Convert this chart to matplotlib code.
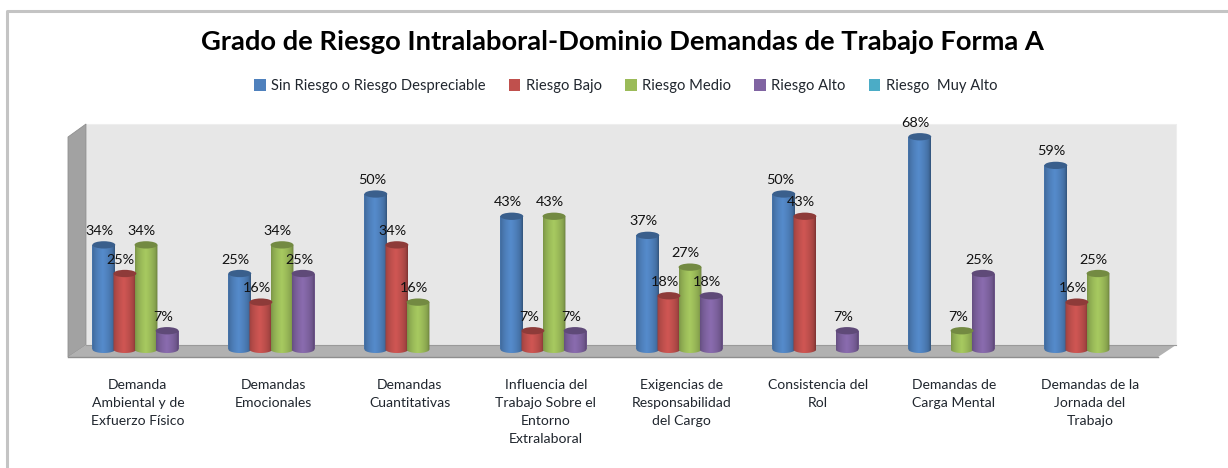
import numpy as np
import matplotlib
matplotlib.use("Agg")
import matplotlib.pyplot as plt
from matplotlib.colors import to_rgb
from matplotlib.lines import Line2D
from matplotlib.patches import Ellipse, Patch, PathPatch, Polygon
from matplotlib.path import Path

plt.rcParams['font.family'] = ['Lato', 'DejaVu Sans']

# Data (percent, 0 = no bar and no label)
categories = [
    "Demanda\nAmbiental y de\nExfuerzo Físico",
    "Demandas\nEmocionales",
    "Demandas\nCuantitativas",
    "Influencia del\nTrabajo Sobre el\nEntorno\nExtralaboral",
    "Exigencias de\nResponsabilidad\ndel Cargo",
    "Consistencia del\nRol",
    "Demandas de\nCarga Mental",
    "Demandas de la\nJornada del\nTrabajo",
]
series_names = ["Sin Riesgo o Riesgo Despreciable", "Riesgo Bajo", "Riesgo Medio",
                "Riesgo Alto", "Riesgo  Muy Alto"]
sin_riesgo = [34, 25, 50, 43, 37, 50, 68, 59]
riesgo_bajo = [25, 16, 34, 7, 18, 43, 0, 16]
riesgo_medio = [34, 34, 16, 43, 27, 0, 7, 25]
riesgo_alto = [7, 25, 0, 7, 18, 7, 25, 0]
riesgo_muy_alto = [0, 0, 0, 0, 0, 0, 0, 0]
colors = ["#4F81BD", "#C0504D", "#9BBB59", "#8064A2", "#4BACC6"]

W, H = 1228, 468
BAR_STEP = 0.155
BAR_W = 0.168
RIM = 1.15  # half height of the cylinder ellipse, in percent

fig = plt.figure(figsize=(W / 100, H / 100), dpi=100, facecolor="white")

# Background layer in pixel coords: page frame and the fake 3D walls
bg = fig.add_axes([0, 0, 1, 1])
bg.set_xlim(0, W)
bg.set_ylim(H, 0)
bg.axis("off")
bg.add_line(Line2D([7, 7, W], [H, 11, 11], color="#c4c4c4", lw=2.2))
bg.add_patch(Polygon([(86, 124), (1176, 124), (1176, 345), (86, 345)], fc="#e7e7e7", ec="#eeeeee", lw=0.8))
bg.add_patch(Polygon([(68, 137), (86, 124), (86, 345), (68, 357)], fc="#a2a2a2", ec="#8f8f8f", lw=0.6))
bg.add_patch(Polygon([(86, 345), (1176, 345), (1158, 357), (68, 357)], fc="#b1b1b1", ec="none"))
bg.add_line(Line2D([68, 1158], [357, 357], color="#8e8e8e", lw=1.0))
bg.add_line(Line2D([86, 1176], [345, 345], color="#9a9a9a", lw=0.8))

# Data layer: 136 px per category, 3.18 px per percent, zero at y=353
ax = fig.add_axes([78 / W, (H - 353) / H, 8 * 136 / W, 72 * 3.18 / H])
ax.patch.set_alpha(0)
ax.set_xlim(-0.5, 7.5)
ax.set_ylim(0, 72)
for s in ax.spines.values():
    s.set_visible(False)
ax.set_yticks([])
ax.set_xticks(np.arange(len(categories)) - 0.06)
ax.set_xticklabels(categories, fontsize=10.1, color="#20262e", linespacing=1.62, va="top")
ax.tick_params(axis="x", length=0, pad=18.5)


def cylinder_shade(color):
    """Horizontal shading strip, dark at both edges and light in the middle."""
    u = np.linspace(0, 1, 40)
    k = 0.68 + 0.4 * np.clip(1 - np.abs(u - 0.47) / 0.5, 0, 1) ** 0.45
    return np.clip(np.outer(k, to_rgb(color)), 0, 1)[None, :, :]


def draw_cylinders(xs, values, color):
    visible = [(x, v) for x, v in zip(xs, values) if v > 0]
    if not visible:
        return
    bx = [p[0] for p in visible]
    bv = [p[1] - RIM for p in visible]
    bars = ax.bar(bx, bv, BAR_W, bottom=RIM, color=color, zorder=3)
    for rect, (x, v) in zip(bars, visible):
        t = np.linspace(0, np.pi, 24)
        ex = x - BAR_W / 2 * np.cos(t)
        ey = RIM - RIM * np.sin(t)
        outline = Path(np.column_stack([
            np.r_[ex, x + BAR_W / 2, x - BAR_W / 2, x - BAR_W / 2],
            np.r_[ey, v, v, RIM],
        ]), closed=False)
        clip = PathPatch(outline, transform=ax.transData, fc="none", ec="none")
        ax.add_patch(clip)
        img = ax.imshow(cylinder_shade(color), extent=(x - BAR_W / 2, x + BAR_W / 2, 0, v),
                        aspect="auto", zorder=3.1, interpolation="bilinear")
        img.set_clip_path(clip)
        # darker lid on top of the cylinder
        lid = np.array(to_rgb(color)) * 0.74
        ax.add_patch(Ellipse((x, v), BAR_W, 2 * RIM, fc=lid, ec="none", zorder=3.2))
        ax.text(x - 0.03, v + 2.5, f"{v}%", ha="center", va="bottom", fontsize=10.4,
                color="#111111", zorder=6, clip_on=False)


all_series = [sin_riesgo, riesgo_bajo, riesgo_medio, riesgo_alto, riesgo_muy_alto]
for j, (vals, col) in enumerate(zip(all_series, colors)):
    xs = np.arange(len(categories)) + (j - 2) * BAR_STEP
    draw_cylinders(xs, vals, col)
ax.set_xlim(-0.5, 7.5)
ax.set_ylim(0, 72)

fig.text(622 / W, 1 - 42 / H, "Grado de Riesgo Intralaboral-Dominio Demandas de Trabajo Forma A",
         ha="center", va="center", fontsize=19.7, fontweight="bold", color="black")

handles = [Patch(fc=c, ec="none") for c in colors]
fig.legend(handles, series_names, loc="center", bbox_to_anchor=(625.5 / W, 1 - 86 / H), ncol=5,
           frameon=False, fontsize=10.6, handlelength=0.8, handleheight=0.8, handletextpad=0.35,
           columnspacing=1.58, labelcolor="#20262e")

fig.savefig("out.png", dpi=100, facecolor="white")
